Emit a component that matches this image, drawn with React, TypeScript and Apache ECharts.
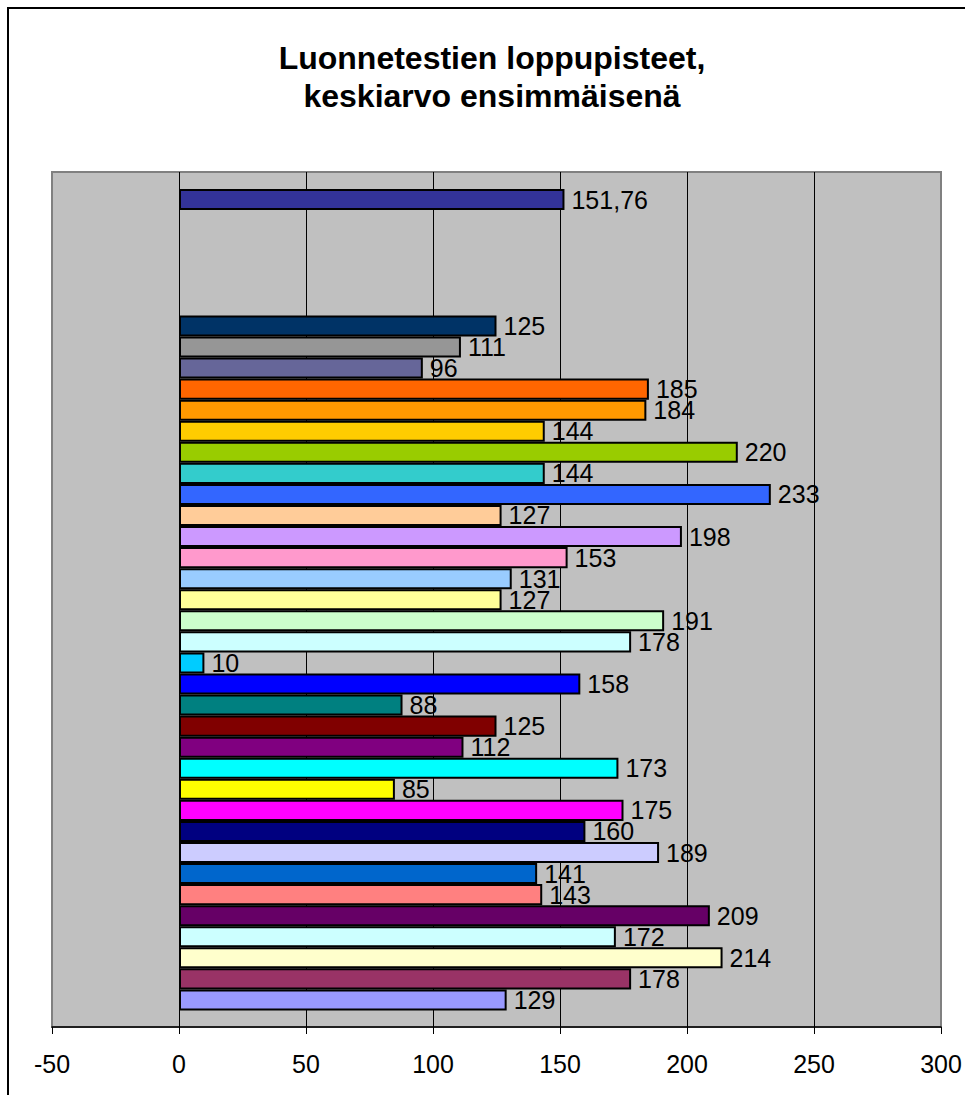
import React, { useEffect, useRef } from "react";
import * as echarts from "echarts";

const titleLines = ["Luonnetestien loppupisteet,", "keskiarvo ensimmäisenä"];
const averageLabel = "Keskiarvo";
const averageScore = 151.76;
const gapSlotCount = 5;
const dogScores = [
  125, 111, 96, 185, 184, 144, 220, 144, 233, 127, 198, 153, 131, 127, 191, 178, 10,
  158, 88, 125, 112, 173, 85, 175, 160, 189, 141, 143, 209, 172, 214, 178, 129,
];
const averageColor = "#333399";
const dogColors = [
  "#003366", "#969696", "#666699", "#FF6600", "#FF9900", "#FFCC00", "#99CC00", "#33CCCC",
  "#3366FF", "#FFCC99", "#CC99FF", "#FF99CC", "#99CCFF", "#FFFF99", "#CCFFCC", "#CCFFFF",
  "#00CCFF", "#0000FF", "#008080", "#800000", "#800080", "#00FFFF", "#FFFF00", "#FF00FF",
  "#000080", "#CCCCFF", "#0066CC", "#FF8080", "#660066", "#CCFFFF", "#FFFFCC", "#993366",
  "#9999FF",
];
const xMin = -50;
const xMax = 300;
const xStep = 50;

const FONT = "'Liberation Sans', Arial, Helvetica, sans-serif";

export default function App() {
  const ref = useRef<HTMLDivElement>(null);

  useEffect(() => {
    if (!ref.current) return;
    const chart = echarts.init(ref.current, undefined, { renderer: "svg" });

    const categories: string[] = [
      averageLabel,
      ...Array.from({ length: gapSlotCount }, (_, i) => `_gap${i + 1}`),
      ...dogScores.map((_, i) => `Koira ${i + 1}`),
    ];
    const data: any[] = [
      { value: averageScore, itemStyle: { color: averageColor } },
      ...Array.from({ length: gapSlotCount }, () => null),
      ...dogScores.map((v, i) => ({ value: v, itemStyle: { color: dogColors[i] } })),
    ];

    const plotLeft = 52;
    const plotWidth = 889;
    const plotTop = 172;
    const plotHeight = 855;
    const barTop = 189;
    const barHeight = 821.5;

    chart.setOption({
      animation: false,
      backgroundColor: "#ffffff",
      title: {
        text: titleLines.join("\n"),
        left: 492,
        top: 39,
        padding: 0,
        textAlign: "center",
        textStyle: {
          fontFamily: FONT,
          fontSize: 32,
          fontWeight: "bold",
          color: "#000",
          lineHeight: 38,
        },
      },
      graphic: [
        {
          type: "rect",
          silent: true,
          shape: { x: 8, y: 8, width: 1100, height: 1200 },
          style: { fill: "none", stroke: "#000", lineWidth: 2 },
          z: 100,
        },
      ],
      grid: [
        {
          left: plotLeft,
          top: plotTop,
          width: plotWidth,
          height: plotHeight,
          show: true,
          backgroundColor: "#C0C0C0",
          borderColor: "#808080",
          borderWidth: 2,
        },
        {
          left: plotLeft,
          top: barTop,
          width: plotWidth,
          height: barHeight,
        },
      ],
      xAxis: [
        {
          type: "value",
          gridIndex: 0,
          min: xMin,
          max: xMax,
          interval: xStep,
          axisLine: { show: true, onZero: false, lineStyle: { color: "#000", width: 1.5 } },
          axisTick: { show: true, length: 7, inside: false, lineStyle: { color: "#000", width: 1 } },
          axisLabel: {
            show: true,
            margin: 24,
            fontFamily: FONT,
            fontSize: 25,
            color: "#000",
            formatter: (v: number) => String(v),
          },
          splitLine: {
            show: true,
            showMinLine: false,
            showMaxLine: false,
            lineStyle: { color: "#000", width: 1 },
          },
        },
        {
          type: "value",
          gridIndex: 1,
          min: xMin,
          max: xMax,
          interval: xStep,
          show: false,
          splitLine: { show: false },
        },
      ],
      yAxis: [
        {
          type: "value",
          gridIndex: 0,
          min: 0,
          max: 1,
          show: false,
          splitLine: { show: false },
        },
        {
          type: "category",
          gridIndex: 1,
          data: categories,
          inverse: true,
          show: false,
          boundaryGap: true,
        },
      ],
      series: [
        {
          type: "bar",
          xAxisIndex: 1,
          yAxisIndex: 1,
          data,
          barCategoryGap: "0%",
          itemStyle: { borderColor: "#000", borderWidth: 2 },
          label: {
            show: true,
            position: "right",
            distance: 7,
            fontFamily: FONT,
            fontSize: 25,
            color: "#000",
            formatter: (p: any) => String(p.value).replace(".", ","),
          },
          z: 3,
        },
      ],
    });

    return () => chart.dispose();
  }, []);

  return (
    <div
      ref={ref}
      style={{ position: "fixed", left: 0, top: 0, width: 965, height: 1095, background: "#fff" }}
    />
  );
}
